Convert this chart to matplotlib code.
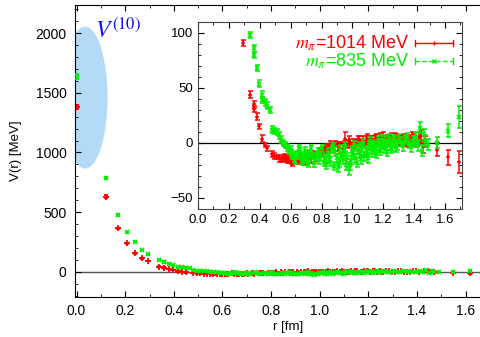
import matplotlib
matplotlib.use("Agg")
import matplotlib.pyplot as plt
from matplotlib.patches import Ellipse
from matplotlib.ticker import MultipleLocator

plt.rcParams['font.family'] = ['Liberation Sans', 'DejaVu Sans']
plt.rcParams['mathtext.fontset'] = 'stix'

# m_pi = 1014 MeV (red)
r_1014 = [0.0, 0.12, 0.17, 0.208, 0.24, 0.268, 0.294, 0.339, 0.360, 0.360,
          0.379, 0.398, 0.416, 0.433, 0.449, 0.480, 0.495, 0.509, 0.523, 0.537,
          0.550, 0.563, 0.576, 0.588, 0.600, 0.612, 0.624, 0.647, 0.658, 0.679,
          0.690, 0.700, 0.720, 0.731, 0.749, 0.768, 0.786, 0.804, 0.822, 0.840,
          0.857, 0.873, 0.890, 0.906, 0.922, 0.937, 0.953, 0.968, 0.983, 0.998,
          1.013, 1.027, 1.042, 1.056, 1.070, 1.085, 1.099, 1.113, 1.127, 1.140,
          1.154, 1.168, 1.181, 1.194, 1.207, 1.221, 1.234, 1.247, 1.260, 1.273,
          1.297, 1.322, 1.347, 1.371, 1.395, 1.430, 1.455, 1.472, 1.547, 1.620,
          1.690,
          0.555, 0.570, 0.594, 0.618, 0.640, 0.668, 0.705, 0.726, 0.760, 0.790,
          0.815, 0.845, 0.880, 0.915, 0.945, 0.975, 1.005, 1.035, 1.063, 1.092,
          1.120, 1.147, 1.175, 1.200, 1.228, 1.254, 1.285, 1.310, 1.335, 1.360,
          1.385, 1.410, 1.445]
v_1014 = [1380, 630, 365, 240, 156, 114, 91, 44, 35, 31,
          24, 15, 4, -2, -5, -10, -12, -13, -14, -15,
          -14, -15, -16, -15, -17, -18, -14, -16, -14, -17,
          -15, -13, -12, -14, -10, -11, -8, -9, -5, -4,
          -2, -3, -1, -3, -2, -5, 4, -1, 0, -3,
          1, 0, 2, 1, 3, 2, 0, 2, 3, 1,
          4, 2, 5, 3, 1, 4, 2, 5, 1, 4,
          2, 3, 1, 2, 3, 4, -3, 1, -6, -13,
          -17,
          -12, -13, -14, -16, -13, -15, -16, -11, -13, -10,
          -7, -6, -4, -6, -1, 2, -2, 3, 0, 4,
          1, 3, 0, 6, 3, 0, 4, 1, 4, 0,
          5, 1, 6]
dv_1014 = [20, 10, 6, 4, 3, 3, 3, 3, 3, 3,
           3, 2, 3, 2, 2, 3, 3, 2, 3, 2,
           2, 2, 2, 3, 2, 3, 3, 3, 3, 3,
           3, 3, 3, 4, 3, 3, 3, 3, 4, 3,
           4, 3, 3, 4, 3, 3, 6, 4, 4, 3,
           3, 3, 4, 3, 3, 4, 3, 4, 3, 3,
           4, 3, 4, 3, 4, 3, 4, 4, 3, 5,
           4, 4, 4, 5, 5, 6, 6, 5, 6, 7,
           10,
           2, 2, 2, 3, 3, 3, 3, 3, 3, 3,
           3, 3, 3, 4, 3, 4, 3, 3, 3, 4,
           3, 4, 3, 4, 3, 4, 4, 4, 4, 4,
           5, 5, 6]

# m_pi = 835 MeV (green)
r_835 = [0.0, 0.12, 0.17, 0.208, 0.24, 0.268, 0.294, 0.339, 0.360, 0.360,
         0.379, 0.398, 0.416, 0.416, 0.433, 0.449, 0.465, 0.480, 0.495, 0.509,
         0.523, 0.537, 0.550, 0.563, 0.576, 0.588, 0.600, 0.612, 0.624, 0.636,
         0.647, 0.658, 0.669, 0.679, 0.690, 0.700, 0.710, 0.720, 0.740, 0.759,
         0.777, 0.795, 0.813, 0.831, 0.849, 0.865, 0.882, 0.898, 0.914, 0.929,
         0.945, 0.960, 0.976, 0.991, 1.006, 1.020, 1.035, 1.049, 1.063, 1.078,
         1.092, 1.106, 1.120, 1.134, 1.147, 1.161, 1.174, 1.188, 1.201, 1.214,
         1.227, 1.240, 1.254, 1.266, 1.279, 1.292, 1.316, 1.341, 1.365, 1.390,
         1.414, 1.438, 1.462, 1.490, 1.547, 1.620, 1.690,
         0.605, 0.630, 0.652, 0.675, 0.695, 0.715, 0.735, 0.750, 0.770, 0.786,
         0.805, 0.822, 0.840, 0.858, 0.874, 0.890, 0.906, 0.922, 0.938, 0.952,
         0.968, 0.984, 0.999, 1.013, 1.028, 1.042, 1.056, 1.071, 1.085, 1.099,
         1.113, 1.127, 1.141, 1.154, 1.168, 1.181, 1.194, 1.208, 1.221, 1.234,
         1.247, 1.260, 1.285, 1.304, 1.328, 1.353, 1.378, 1.402, 1.426, 1.450,
         1.470]
v_835 = [1635, 784, 477, 332, 254, 184, 148, 98, 86, 80,
         68, 54, 44, 39, 37, 34, 30, 12, 11, 10,
         7, 3, 0, -2, -4, -7, -9, -12, -14, -10,
         -12, -8, -11, -13, -15, -10, -19, -9, -12, -14,
         -8, -12, -17, -20, -13, -6, -21, -14, -18, -12,
         -8, -20, -24, -16, -11, -14, -6, -9, -4, -12,
         -7, -2, -5, -1, -6, -3, 0, -4, -1, 2,
         -2, 1, -3, 0, 2, -2, 1, 3, -1, 2,
         5, 14, 8, -1, 0, 11, 24,
         -6, -16, -5, -17, -7, -14, -5, -18, -10, -15,
         -5, -14, -9, -17, -3, -8, -22, -6, -15, -3,
         -13, -20, -7, -2, -18, -3, -15, 0, -9, -14,
         1, -9, -3, -10, 2, -7, 3, -5, -8, 4,
         -5, 3, -4, 4, -3, 5, -4, 0, -2, -7,
         2]
dv_835 = [20, 10, 6, 4, 3, 3, 3, 3, 3, 3,
          3, 3, 3, 3, 3, 3, 3, 3, 3, 3,
          3, 3, 3, 3, 3, 3, 3, 3, 3, 3,
          3, 3, 3, 3, 3, 3, 3, 3, 3, 4,
          3, 4, 4, 4, 4, 3, 4, 4, 4, 4,
          4, 5, 5, 4, 4, 4, 4, 4, 4, 4,
          4, 4, 4, 4, 4, 4, 4, 4, 4, 4,
          4, 4, 4, 4, 4, 4, 4, 4, 4, 4,
          5, 5, 5, 5, 5, 6, 10,
          3, 3, 3, 3, 3, 3, 3, 4, 3, 4,
          3, 4, 4, 4, 3, 4, 4, 4, 4, 4,
          4, 5, 4, 4, 4, 4, 4, 4, 4, 4,
          4, 4, 4, 4, 4, 4, 4, 4, 4, 4,
          4, 4, 4, 4, 4, 4, 4, 4, 5, 5,
          5]

RED = '#ff0000'
GREEN = '#00ee00'

fig = plt.figure(figsize=(4.8, 3.37), dpi=100)

# main panel (right side runs past the figure edge, as in the original)
ax = fig.add_axes([0.156, 0.119, 0.89, 0.866])
ax.axhline(0, color='#555555', lw=1.0, zorder=1)
ax.errorbar(r_1014, v_1014, yerr=dv_1014, fmt='+', color=RED, ms=4, mew=1.3,
            elinewidth=0.8, capsize=1.5, zorder=2)
ax.errorbar(r_835, v_835, yerr=dv_835, fmt='x', color=GREEN, ms=3.5, mew=1.2,
            elinewidth=0.8, capsize=1.5, zorder=3)
ax.add_patch(Ellipse((0.035, 1460), 0.185, 1190, facecolor='#b3dbf7',
                     edgecolor='none', zorder=0))
ax.text(0.075, 1960, r'$V^{(10)}$', color='#1010ee', fontsize=17,
        fontstyle='italic')
ax.set_xlim(-0.007, 1.75)
ax.set_ylim(-210, 2235)
ax.xaxis.set_major_locator(MultipleLocator(0.2))
ax.xaxis.set_minor_locator(MultipleLocator(0.1))
ax.yaxis.set_major_locator(MultipleLocator(500))
ax.yaxis.set_minor_locator(MultipleLocator(100))
ax.xaxis.set_major_formatter(plt.FuncFormatter(lambda v, p: f"{v:.1f}"))
ax.tick_params(which='both', direction='in', top=True, right=True, labelsize=10)
ax.tick_params(which='major', length=4, pad=6)
ax.tick_params(which='minor', length=2)
ax.tick_params(axis='x', which='major', pad=5)
ax.set_xlabel('r [fm]', fontsize=9.5, labelpad=2)
ax.set_ylabel('V(r) [MeV]', fontsize=9.5, labelpad=10)

# inset
axi = fig.add_axes([0.4125, 0.38, 0.55, 0.555])
axi.axhline(0, color='black', lw=0.9, zorder=1)
axi.errorbar(r_1014, v_1014, yerr=dv_1014, fmt='+', color=RED, ms=3.5, mew=1.1,
             elinewidth=1.1, capsize=1.8, zorder=2)
axi.errorbar(r_835, v_835, yerr=dv_835, fmt='x', color=GREEN, ms=3.5, mew=1.1,
             elinewidth=1.1, capsize=1.8, zorder=3)
axi.set_xlim(0, 1.71)
axi.set_ylim(-60, 110)
axi.xaxis.set_major_locator(MultipleLocator(0.2))
axi.xaxis.set_minor_locator(MultipleLocator(0.1))
axi.yaxis.set_major_locator(MultipleLocator(50))
axi.yaxis.set_minor_locator(MultipleLocator(10))
axi.xaxis.set_major_formatter(plt.FuncFormatter(lambda v, p: f"{v:.1f}"))
axi.tick_params(which='both', direction='in', top=True, right=True, labelsize=9.5)
axi.tick_params(which='major', length=4)
axi.tick_params(which='minor', length=2)
for s in axi.spines.values():
    s.set_color('#444444')

# gnuplot-style key
axi.text(0.80, 0.888, r'$m_\pi$=1014 MeV', color=RED, fontsize=13,
         ha='right', va='center', transform=axi.transAxes)
axi.text(0.80, 0.790, r'$m_\pi$=835 MeV', color=GREEN, fontsize=13,
         ha='right', va='center', transform=axi.transAxes)
axi.plot([0.822, 0.966], [0.888, 0.888], color=RED, lw=1.0,
         transform=axi.transAxes)
axi.plot([0.894], [0.888], '+', color=RED, ms=3, mew=1.0,
         transform=axi.transAxes)
axi.plot([0.822, 0.966], [0.790, 0.790], color=GREEN, lw=1.0, ls=(0, (3, 2)),
         transform=axi.transAxes)
axi.plot([0.894], [0.790], 'x', color=GREEN, ms=3, mew=1.0,
         transform=axi.transAxes)
for x0 in (0.822, 0.966):
    axi.plot([x0, x0], [0.872, 0.904], color=RED, lw=1.0, transform=axi.transAxes)
    axi.plot([x0, x0], [0.774, 0.806], color=GREEN, lw=1.0, transform=axi.transAxes)

fig.savefig('out.png', dpi=100)
